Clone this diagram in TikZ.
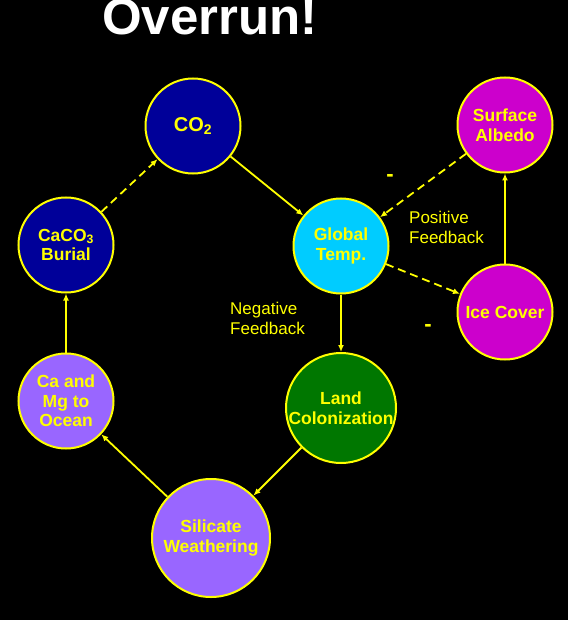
\documentclass[tikz,border=0pt]{standalone}
\usepackage{fontspec}
\setmainfont{Liberation Sans}
\usepackage{xcolor}
\usetikzlibrary{arrows.meta, positioning, calc}
\definecolor{lineyellow}{HTML}{FFFF00}
\definecolor{co2blue}{HTML}{000099}
\definecolor{tempcyan}{HTML}{00CCFF}
\definecolor{icepink}{HTML}{CC00CC}
\definecolor{rockpurple}{HTML}{9966FF}
\definecolor{landgreen}{HTML}{007700}

\begin{document}
\begin{tikzpicture}[x=1pt, y=-1pt,
    bubble/.style={circle, draw=lineyellow, line width=2pt, inner sep=0pt, minimum size=95pt, text=lineyellow, align=center, font=\bfseries\fontsize{17.5}{19.5}\selectfont},
    flow/.style={draw=lineyellow, line width=1.8pt, -{Latex[length=7pt,width=6pt]}},
    dflow/.style={flow, dash pattern=on 8pt off 5pt},
    note/.style={text=lineyellow, align=left, inner sep=0pt, anchor=north west, font=\fontsize{17}{19.5}\selectfont},
    sign/.style={text=lineyellow, inner sep=0pt, font=\bfseries\fontsize{22}{24}\selectfont}]
  % Background and frame
  \fill[black] (0,0) rectangle (568,620);
  \useasboundingbox (0,0) rectangle (568,620);
  \node[anchor=base, text=white, inner sep=0pt, font=\bfseries\fontsize{51}{60}\selectfont] (title) at (210,35) {Overrun!};

  % Carbonate-silicate loop
  \node[bubble, fill=co2blue, font=\bfseries\fontsize{20}{22}\selectfont] (co2) at (193,126) {CO\textsubscript{2}};
  \node[bubble, fill=co2blue] (burial) at (66,245) {CaCO\textsubscript{3}\\Burial};
  \node[bubble, fill=tempcyan] (temp) at (341,246) {Global\\Temp.};
  \node[bubble, fill=rockpurple] (ocean) at (66,401) {Ca and\\Mg to\\Ocean};
  \node[bubble, fill=landgreen, minimum size=110pt] (land) at (341,408) {Land\\Colonization};
  \node[bubble, fill=rockpurple, minimum size=118pt] (silicate) at (211,538) {Silicate\\Weathering};

  % Ice-albedo loop
  \node[bubble, fill=icepink] (albedo) at (505,125) {Surface\\Albedo};
  \node[bubble, fill=icepink] (ice) at (505,312) {Ice Cover};

  \draw[flow] (co2) -- (temp);
  \draw[flow] (temp) -- (land);
  \draw[flow] (land) -- (silicate);
  \draw[flow] (silicate) -- (ocean);
  \draw[flow] (ocean) -- (burial);
  \draw[dflow] (burial) -- (co2);
  \draw[dflow] (temp) -- (ice);
  \draw[flow] (ice) -- (albedo);
  \draw[dflow] (albedo) -- (temp);

  % Loop labels
  \node[note] (pos) at (409,211) {Positive\\Feedback};
  \node[note] (neg) at (230,302) {Negative\\Feedback};
  \node[sign] (minusa) at (390,178) {-};
  \node[sign] (minusb) at (428,328) {-};
\end{tikzpicture}
\end{document}
